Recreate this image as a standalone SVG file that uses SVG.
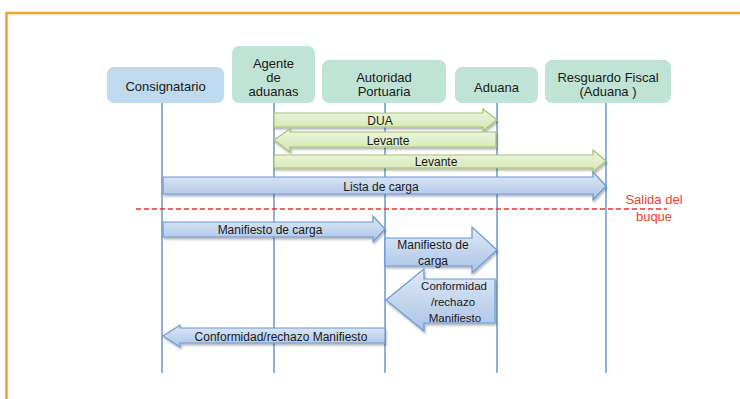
<svg xmlns="http://www.w3.org/2000/svg" width="740" height="399" viewBox="0 0 740 399">
  <style>
    .frame { fill: #ffffff; stroke: #f5a12a; stroke-width: 2.5; }
    .node-blue { fill: #bfd9ef; }
    .node-green { fill: #bfe3d4; }
    .label { font-family: "Liberation Sans", Arial, sans-serif; font-size: 13px; fill: #1a1a1a; text-anchor: middle; }
    .msg { font-family: "Liberation Sans", Arial, sans-serif; font-size: 12px; fill: #1a1a1a; text-anchor: middle; }
    .msg-small { font-family: "Liberation Sans", Arial, sans-serif; font-size: 11.5px; fill: #1a1a1a; text-anchor: middle; }
    .lifeline { stroke: #6a97d6; stroke-width: 1.5; fill: none; }
    .arrow-green { fill: url(#gradGreen); stroke: #a3c46f; stroke-width: 1.2; filter: url(#shadow); }
    .arrow-blue { fill: url(#gradBlue); stroke: #6b98d4; stroke-width: 1.2; filter: url(#shadow); }
    .cutoff { stroke: #f0332a; stroke-width: 1.3; stroke-dasharray: 5 3; fill: none; }
    .cutoff-text { font-family: "Liberation Sans", Arial, sans-serif; font-size: 13px; fill: #f0402f; text-anchor: middle; }
  </style>
  <defs>
    <linearGradient id="gradGreen" x1="0" y1="0" x2="0" y2="1">
      <stop offset="0" stop-color="#f0f6e4"/>
      <stop offset="1" stop-color="#d3e6b0"/>
    </linearGradient>
    <linearGradient id="gradBlue" x1="0" y1="0" x2="0" y2="1">
      <stop offset="0" stop-color="#dfe9f6"/>
      <stop offset="1" stop-color="#aac4e8"/>
    </linearGradient>
    <filter id="shadow" x="-10%" y="-30%" width="120%" height="170%">
      <feDropShadow dx="1" dy="2" stdDeviation="1.2" flood-color="#000000" flood-opacity="0.3"/>
    </filter>
  </defs>

  <!-- outer frame -->
  <rect class="frame" x="6.5" y="13" width="740" height="400"/>

  <!-- lifelines -->
  <g id="lifelines">
    <line class="lifeline" x1="162" y1="103" x2="162" y2="373"/>
    <line class="lifeline" x1="274" y1="103" x2="274" y2="373"/>
    <line class="lifeline" x1="385" y1="103" x2="385" y2="373"/>
    <line class="lifeline" x1="497" y1="103" x2="497" y2="373"/>
    <line class="lifeline" x1="606" y1="103" x2="606" y2="373"/>
  </g>

  <!-- participants -->
  <g id="consignatario">
    <rect class="node-blue" x="107" y="67" width="117" height="36" rx="7"/>
    <text class="label" x="165.5" y="91">Consignatario</text>
  </g>
  <g id="agente-aduanas">
    <rect class="node-green" x="232" y="46" width="83" height="57" rx="7"/>
    <text class="label" x="273.5" y="68">Agente</text>
    <text class="label" x="273.5" y="82">de</text>
    <text class="label" x="273.5" y="96">aduanas</text>
  </g>
  <g id="autoridad-portuaria">
    <rect class="node-green" x="322" y="60" width="124" height="43" rx="7"/>
    <text class="label" x="384" y="82">Autoridad</text>
    <text class="label" x="384" y="96">Portuaria</text>
  </g>
  <g id="aduana">
    <rect class="node-green" x="455" y="67" width="83" height="36" rx="7"/>
    <text class="label" x="496.5" y="92">Aduana</text>
  </g>
  <g id="resguardo-fiscal">
    <rect class="node-green" x="545" y="60" width="126" height="43" rx="7"/>
    <text class="label" x="608" y="82">Resguardo Fiscal</text>
    <text class="label" x="608" y="96">(Aduana )</text>
  </g>

  <!-- messages -->
  <g id="connectors">
    <!-- DUA -->
    <path class="arrow-green" d="M274,113 H483 V109 L497,120 L483,131 V127 H274 Z"/>
    <text class="msg" x="380" y="124.5">DUA</text>

    <!-- Levante (back to agent) -->
    <path class="arrow-green" d="M274,140 L290,129 V132 H496 V147 H290 V152 Z"/>
    <text class="msg" x="388" y="144.5">Levante</text>

    <!-- Levante (to fiscal guard) -->
    <path class="arrow-green" d="M274,155 H593 V150 L606,161 L593,172 V168 H274 Z"/>
    <text class="msg" x="436" y="165.5">Levante</text>

    <!-- Lista de carga -->
    <path class="arrow-blue" d="M163,177 H593 V172 L606,186 L593,200 V194 H163 Z"/>
    <text class="msg" x="381" y="190.5">Lista de carga</text>

    <!-- ship departure -->
    <line class="cutoff" x1="136" y1="209" x2="667" y2="209"/>
    <text class="cutoff-text" x="654" y="204">Salida del</text>
    <text class="cutoff-text" x="654" y="221">buque</text>

    <!-- Manifiesto de carga -->
    <path class="arrow-blue" d="M163,222 H373 V216 L385,229 L373,242 V237 H163 Z"/>
    <text class="msg" x="270" y="233.5">Manifiesto de carga</text>

    <!-- Manifiesto de carga (to customs) -->
    <path class="arrow-blue" d="M385,238 H472 V227 L497,250 L472,273 V266 H385 Z"/>
    <text class="msg" x="433" y="248.5">Manifiesto de</text>
    <text class="msg" x="433" y="264.5">carga</text>

    <!-- Conformidad / rechazo (from customs) -->
    <path class="arrow-blue" d="M386,300 L424,269 V279 H495 V323 H424 V331 Z"/>
    <text class="msg-small" x="454" y="289.5">Conformidad</text>
    <text class="msg-small" x="453" y="305.5">/rechazo</text>
    <text class="msg-small" x="455" y="321.5">Manifiesto</text>

    <!-- Conformidad / rechazo (to consignee) -->
    <path class="arrow-blue" d="M163,336 L180,325 V328 H385 V343 H180 V347 Z"/>
    <text class="msg" x="281" y="340.5">Conformidad/rechazo Manifiesto</text>
  </g>
</svg>
